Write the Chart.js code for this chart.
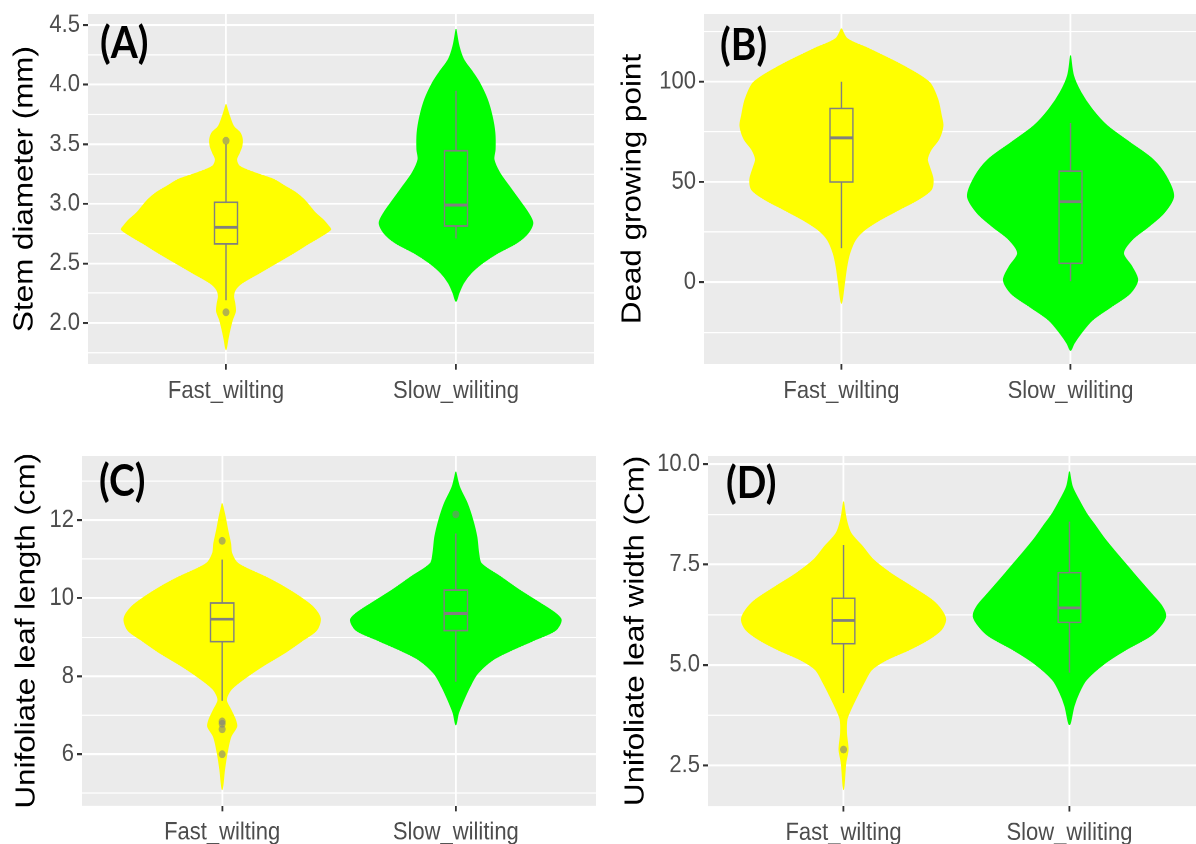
<!DOCTYPE html>
<html>
<head>
<meta charset="utf-8">
<script src="https://cdn.jsdelivr.net/npm/chart.js@4.4.0/dist/chart.umd.min.js"></script>
<style>
  html, body { margin: 0; padding: 0; background: #fff; width: 1196px; height: 844px; overflow: hidden; }
  #wrap { position: absolute; left: 0; top: 0; width: 1196px; height: 754px; transform: scaleY(1.12); transform-origin: 0 0; }
  .cell { position: absolute; }
  .tag { position: absolute; font: bold 39px Lato, "Open Sans", sans-serif; line-height: 1; color: #000; }
</style>
</head>
<body>
<div id="wrap">
  <div class="cell" style="left:0;top:0"><canvas id="cA" width="598" height="376"></canvas></div>
  <div class="cell" style="left:600px;top:0"><canvas id="cB" width="608" height="376"></canvas></div>
  <div class="cell" style="left:0;top:376px"><canvas id="cC" width="600" height="378"></canvas></div>
  <div class="cell" style="left:600px;top:376px"><canvas id="cD" width="609" height="378"></canvas></div>
  <div class="tag" style="left:100px;top:18px">(A)</div>
  <div class="tag" style="left:720px;top:20px">(B)</div>
  <div class="tag" style="left:99px;top:409px">(C)</div>
  <div class="tag" style="left:726px;top:411px">(D)</div>
</div>
<script>
const groups = ["Fast_wilting", "Slow_wiliting"];

// violin outlines: y levels (top to bottom) and half widths in category units
const stemFastY = [3.834, 3.75, 3.65, 3.596, 3.54, 3.484, 3.428, 3.372, 3.316, 3.26, 3.204, 3.148, 3.09, 3.036, 2.98, 2.924, 2.868, 2.812, 2.784, 2.728, 2.672, 2.588, 2.504, 2.42, 2.336, 2.28, 2.224, 2.168, 2.098, 2.028, 1.944, 1.86, 1.776];
const stemFastW = [0, 0.013, 0.033, 0.061, 0.071, 0.069, 0.058, 0.046, 0.058, 0.124, 0.207, 0.256, 0.306, 0.339, 0.364, 0.388, 0.421, 0.446, 0.455, 0.413, 0.364, 0.294, 0.22, 0.145, 0.07, 0.041, 0.033, 0.038, 0.041, 0.028, 0.017, 0.008, 0];
const stemSlowY = [4.464, 4.324, 4.212, 4.10, 4.016, 3.876, 3.736, 3.596, 3.456, 3.372, 3.26, 3.148, 3.036, 2.924, 2.84, 2.756, 2.672, 2.588, 2.504, 2.42, 2.336, 2.252, 2.182];
const stemSlowW = [0, 0.013, 0.033, 0.074, 0.102, 0.136, 0.157, 0.169, 0.17, 0.165, 0.19, 0.231, 0.273, 0.314, 0.334, 0.314, 0.264, 0.182, 0.116, 0.066, 0.033, 0.013, 0];
const stemBox = [[2.19, 2.664, 2.803, 3.013, 3.50], [2.71, 2.814, 2.99, 3.445, 3.95]];
const stemOutFast = [3.529, 2.09];
const stemOutSlow = [];

const dgpFastY = [126.4, 121.4, 116.4, 108, 99.7, 91.3, 83, 78, 71.3, 66.3, 61.3, 57.9, 51.3, 46.2, 41.2, 36.2, 31.2, 26.2, 21.2, 14.5, 7.8, -0.5, -10.5];
const dgpFastW = [0, 0.025, 0.119, 0.268, 0.383, 0.42, 0.436, 0.443, 0.425, 0.392, 0.375, 0.383, 0.4, 0.392, 0.334, 0.251, 0.169, 0.102, 0.061, 0.036, 0.023, 0.013, 0];
const dgpSlowY = [113, 103, 94.7, 86.3, 78, 69.6, 61.3, 52.9, 42.9, 34.6, 27.9, 21.2, 14.5, 7.8, 1.2, -5.5, -12.2, -18.9, -25.5, -30.5, -33.9];
const dgpSlowW = [0, 0.013, 0.045, 0.094, 0.16, 0.26, 0.359, 0.417, 0.45, 0.408, 0.342, 0.268, 0.231, 0.268, 0.293, 0.26, 0.177, 0.094, 0.045, 0.015, 0];
const dgpBox = [[17, 50, 72, 86.6, 100], [0.5, 9.5, 40.2, 55.4, 79.3]];
const dgpOutFast = [];
const dgpOutSlow = [];

const lenFastY = [12.43, 12.09, 11.74, 11.4, 11.15, 10.89, 10.55, 10.29, 10.04, 9.78, 9.48, 9.18, 8.93, 8.59, 8.24, 7.9, 7.65, 7.39, 7.14, 6.88, 6.71, 6.45, 6.03, 5.6, 5.09];
const lenFastW = [0, 0.013, 0.024, 0.036, 0.041, 0.068, 0.184, 0.265, 0.331, 0.388, 0.42, 0.404, 0.347, 0.265, 0.168, 0.086, 0.037, 0.018, 0.037, 0.057, 0.062, 0.037, 0.021, 0.01, 0];
const lenSlowY = [13.24, 12.85, 12.43, 12.0, 11.57, 11.15, 10.89, 10.55, 10.21, 9.87, 9.61, 9.44, 9.18, 8.93, 8.67, 8.42, 8.07, 7.73, 7.31, 7.05, 6.75];
const lenSlowW = [0, 0.016, 0.049, 0.073, 0.09, 0.098, 0.109, 0.191, 0.272, 0.362, 0.427, 0.451, 0.427, 0.337, 0.239, 0.158, 0.093, 0.06, 0.028, 0.011, 0];
const lenBox = [[7.37, 8.885, 9.465, 9.88, 10.99], [7.86, 9.17, 9.61, 10.21, 11.66]];
const lenOutFast = [11.47, 6.84, 6.78, 6.64, 6.0];
const lenOutSlow = [12.15];

const widFastY = [9.07, 8.61, 8.28, 7.95, 7.62, 7.29, 6.96, 6.62, 6.37, 6.13, 5.88, 5.63, 5.38, 5.13, 4.88, 4.55, 4.22, 3.89, 3.64, 3.3, 2.89, 2.56, 1.89];
const widFastW = [0, 0.013, 0.033, 0.084, 0.132, 0.207, 0.299, 0.391, 0.433, 0.452, 0.433, 0.375, 0.291, 0.191, 0.124, 0.09, 0.06, 0.032, 0.015, 0.013, 0.02, 0.01, 0];
const widSlowY = [9.82, 9.44, 9.11, 8.78, 8.45, 8.12, 7.78, 7.45, 7.12, 6.79, 6.46, 6.21, 5.96, 5.71, 5.38, 5.05, 4.63, 4.3, 3.97, 3.51];
const widSlowW = [0, 0.013, 0.042, 0.075, 0.117, 0.159, 0.209, 0.259, 0.309, 0.36, 0.41, 0.426, 0.401, 0.355, 0.25, 0.159, 0.075, 0.042, 0.02, 0];
const widBox = [[4.30, 5.53, 6.11, 6.66, 7.99], [4.81, 6.06, 6.42, 7.30, 8.57]];
const widOutFast = [2.89];
const widOutSlow = [];

const FAST = "#FFFF00", SLOW = "#00FF00";
const TXT = "'Liberation Sans', Arial, sans-serif";

function outline(xc, ys, ws) {
  const right = ys.map((y, i) => ({ x: xc + ws[i], y }));
  const left = ys.map((y, i) => ({ x: xc - ws[i], y })).reverse();
  return right.concat(left.slice(1));
}

const panelBg = {
  id: "panelBg",
  beforeDraw(chart) {
    const a = chart.chartArea, ctx = chart.ctx;
    ctx.save();
    ctx.fillStyle = "#EBEBEB";
    ctx.fillRect(a.left, a.top, a.right - a.left, a.bottom - a.top);
    ctx.restore();
  }
};

const violinFill = {
  id: "violinFill",
  beforeDatasetDraw(chart, args) {
    const ds = chart.data.datasets[args.index];
    if (!ds.violin) return;
    const a = chart.chartArea, ctx = chart.ctx;
    ctx.save();
    ctx.beginPath();
    ctx.rect(a.left, a.top, a.right - a.left, a.bottom - a.top);
    ctx.clip();
    ctx.beginPath();
    args.meta.dataset.path(ctx);
    ctx.closePath();
    ctx.fillStyle = ds.backgroundColor;
    ctx.fill();
    ctx.restore();
  }
};

// boxes go on after the last violin, before the outlier points
const boxes = {
  id: "boxes",
  afterDatasetDraw(chart, args, opts) {
    if (args.index !== 1) return;
    const xs = chart.scales.x, ys = chart.scales.y, ctx = chart.ctx;
    const py = v => ys.getPixelForValue(v);
    ctx.save();
    ctx.strokeStyle = "#808080";
    opts.stats.forEach((s, i) => {
      const [lo, q1, med, q3, hi] = s;
      const xm = xs.getPixelForValue(i + 1);
      const xl = xs.getPixelForValue(i + 1 - 0.05);
      const xr = xs.getPixelForValue(i + 1 + 0.05);
      ctx.lineWidth = 1.4;
      ctx.beginPath();
      ctx.moveTo(xm, py(hi)); ctx.lineTo(xm, py(q3));
      ctx.moveTo(xm, py(q1)); ctx.lineTo(xm, py(lo));
      ctx.stroke();
      ctx.strokeRect(xl, py(q3), xr - xl, py(q1) - py(q3));
      ctx.lineWidth = 2.6;
      ctx.beginPath();
      ctx.moveTo(xl, py(med)); ctx.lineTo(xr, py(med));
      ctx.stroke();
    });
    ctx.restore();
  }
};

function makePanel(p) {
  const ticks = p.major.map(v => ({ value: v }))
    .concat(p.minor.map(v => ({ value: v, minorLine: true })))
    .sort((a, b) => a.value - b.value);
  const pts = p.outFast.map(y => ({ x: 1, y })).concat(p.outSlow.map(y => ({ x: 2, y })));

  new Chart(document.getElementById(p.canvas), {
    type: "scatter",
    data: {
      datasets: [
        { data: pts, pointRadius: 3.5, pointBackgroundColor: "rgba(128,128,128,0.6)", pointBorderWidth: 0, showLine: false },
        { data: outline(1, p.fastY, p.fastW), violin: true, showLine: true, tension: 0.3, pointRadius: 0,
          borderColor: FAST, backgroundColor: FAST, borderWidth: 1 },
        { data: outline(2, p.slowY, p.slowW), violin: true, showLine: true, tension: 0.3, pointRadius: 0,
          borderColor: SLOW, backgroundColor: SLOW, borderWidth: 1 }
      ]
    },
    options: {
      responsive: false,
      devicePixelRatio: 2,
      animation: false,
      layout: { padding: { top: p.top, left: 0, right: 0, bottom: 0 } },
      plugins: { legend: { display: false }, tooltip: { enabled: false }, boxes: { stats: p.box } },
      scales: {
        x: {
          type: "linear", min: 0.4, max: 2.6,
          afterBuildTicks: s => { s.ticks = [{ value: 1 }, { value: 2 }]; },
          afterFit: s => { s.height = p.xH; s.paddingLeft = 0; s.paddingRight = 0; },
          ticks: { autoSkip: false, maxRotation: 0, padding: 6, color: "#4D4D4D",
            font: { size: 22, family: TXT }, callback: v => groups[v - 1] },
          grid: { color: "#FFFFFF", lineWidth: 1.8, tickColor: "#333333", tickLength: 5 },
          border: { display: false }
        },
        y: {
          type: "linear", min: p.yMin, max: p.yMax,
          afterBuildTicks: s => { s.ticks = ticks.map(t => Object.assign({}, t)); },
          afterFit: s => { s.width = p.yW; s.paddingTop = 0; s.paddingBottom = 0; },
          ticks: { autoSkip: false, padding: 3, color: "#4D4D4D", font: { size: 22, family: TXT },
            callback: (v, i, all) => all[i].minorLine ? "" : v.toFixed(p.dec) },
          grid: {
            color: "#FFFFFF",
            lineWidth: c => (c.tick && c.tick.minorLine) ? 1.1 : 1.8,
            tickColor: c => (c.tick && c.tick.minorLine) ? "rgba(0,0,0,0)" : "#333333",
            tickLength: 5
          },
          border: { display: false },
          title: { display: true, text: p.title, color: "#000000",
            font: { size: 28, family: TXT }, padding: { top: p.tPad, bottom: 0 } }
        }
      }
    },
    plugins: [panelBg, violinFill, boxes]
  });
}

makePanel({ canvas: "cA", title: "Stem diameter (mm)", yMin: 1.656, yMax: 4.592,
  major: [2.0, 2.5, 3.0, 3.5, 4.0, 4.5], minor: [1.75, 2.25, 2.75, 3.25, 3.75, 4.25], dec: 1,
  fastY: stemFastY, fastW: stemFastW, slowY: stemSlowY, slowW: stemSlowW, box: stemBox,
  outFast: stemOutFast, outSlow: stemOutSlow, top: 12.5, xH: 51, yW: 88, tPad: 8 });

makePanel({ canvas: "cB", title: "Dead growing point", yMin: -40.7, yMax: 133.7,
  major: [0, 50, 100], minor: [-25, 25, 75, 125], dec: 0,
  fastY: dgpFastY, fastW: dgpFastW, slowY: dgpSlowY, slowW: dgpSlowW, box: dgpBox,
  outFast: dgpOutFast, outSlow: dgpOutSlow, top: 12.5, xH: 51, yW: 104, tPad: 16 });

makePanel({ canvas: "cC", title: "Unifoliate leaf length (cm)", yMin: 4.68, yMax: 13.65,
  major: [6, 8, 10, 12], minor: [5, 7, 9, 11, 13], dec: 0,
  fastY: lenFastY, fastW: lenFastW, slowY: lenSlowY, slowW: lenSlowW, box: lenBox,
  outFast: lenOutFast, outSlow: lenOutSlow, top: 31, xH: 34.6, yW: 82, tPad: 10 });

makePanel({ canvas: "cD", title: "Unifoliate leaf width (Cm)", yMin: 1.485, yMax: 10.21,
  major: [2.5, 5.0, 7.5, 10.0], minor: [3.75, 6.25, 8.75], dec: 1,
  fastY: widFastY, fastW: widFastW, slowY: widSlowY, slowW: widSlowW, box: widBox,
  outFast: widOutFast, outSlow: widOutSlow, top: 31, xH: 34.4, yW: 108, tPad: 19 });
</script>
</body>
</html>
